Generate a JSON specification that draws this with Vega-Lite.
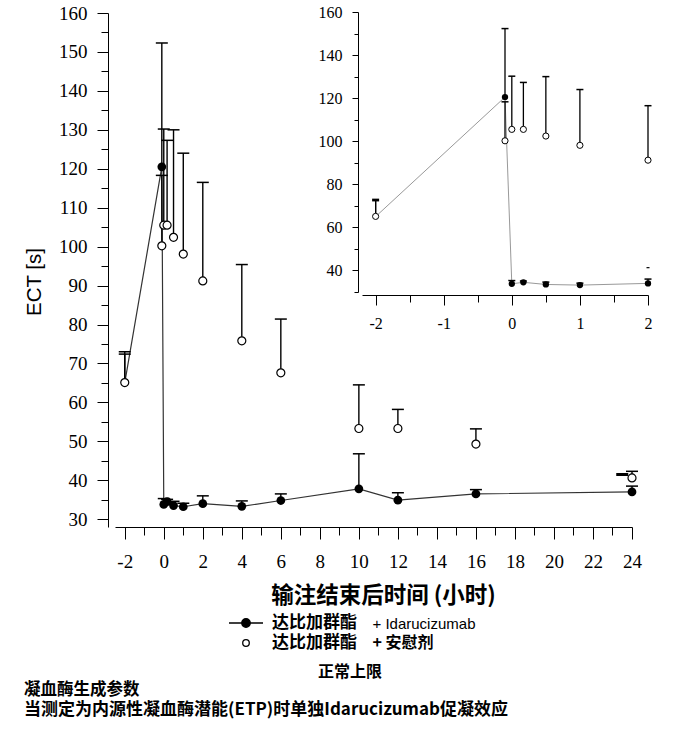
{
  "$schema": "https://vega.github.io/schema/vega-lite/v6.json",
  "width": 517,
  "height": 514,
  "autosize": {"type": "none"},
  "padding": {"left": 115, "top": 13, "right": 42, "bottom": 202},
  "background": "white",
  "config": {
    "view": {"stroke": null},
    "axis": {"grid": false, "domainColor": "black", "tickColor": "black", "labelColor": "black", "titleColor": "black", "domainWidth": 1, "tickWidth": 1, "labelFont": "Liberation Serif, DejaVu Serif, serif"}
  },
  "title": {
    "text": "凝血酶生成参数",
    "subtitle": "当测定为内源性凝血酶潜能(ETP)时单独Idarucizumab促凝效应",
    "orient": "bottom",
    "anchor": "start",
    "frame": "bounds",
    "offset": 3,
    "font": "Noto Sans CJK SC",
    "fontSize": 16.5,
    "fontWeight": "bold",
    "color": "black",
    "subtitleFont": "Noto Sans CJK SC",
    "subtitleFontSize": 17,
    "subtitleFontWeight": "bold",
    "subtitleColor": "black",
    "subtitlePadding": 3
  },
  "datasets": {
    "series": [
      {"group": "达比加群酯 + Idarucizumab", "t": -2, "ect": 65.0, "upper": 72.4},
      {"group": "达比加群酯 + Idarucizumab", "t": -0.1, "ect": 120.5, "upper": 152.3},
      {"group": "达比加群酯 + Idarucizumab", "t": 0, "ect": 33.8, "upper": 35.3},
      {"group": "达比加群酯 + Idarucizumab", "t": 0.17, "ect": 34.5, "upper": 35.1},
      {"group": "达比加群酯 + Idarucizumab", "t": 0.5, "ect": 33.5, "upper": 34.6},
      {"group": "达比加群酯 + Idarucizumab", "t": 1, "ect": 33.2, "upper": 34.1},
      {"group": "达比加群酯 + Idarucizumab", "t": 2, "ect": 34.0, "upper": 36.0},
      {"group": "达比加群酯 + Idarucizumab", "t": 4, "ect": 33.3, "upper": 34.7},
      {"group": "达比加群酯 + Idarucizumab", "t": 6, "ect": 34.8, "upper": 36.5},
      {"group": "达比加群酯 + Idarucizumab", "t": 10, "ect": 37.8, "upper": 46.8},
      {"group": "达比加群酯 + Idarucizumab", "t": 12, "ect": 34.9, "upper": 36.8},
      {"group": "达比加群酯 + Idarucizumab", "t": 16, "ect": 36.5, "upper": 37.6},
      {"group": "达比加群酯 + Idarucizumab", "t": 24, "ect": 37.0, "upper": 38.5},
      {"group": "达比加群酯 + 安慰剂", "t": -2, "ect": 65.1, "upper": 73.0},
      {"group": "达比加群酯 + 安慰剂", "t": -0.1, "ect": 100.2, "upper": 118.3},
      {"group": "达比加群酯 + 安慰剂", "t": 0, "ect": 105.5, "upper": 130.2},
      {"group": "达比加群酯 + 安慰剂", "t": 0.17, "ect": 105.5, "upper": 127.3},
      {"group": "达比加群酯 + 安慰剂", "t": 0.5, "ect": 102.4, "upper": 130.0},
      {"group": "达比加群酯 + 安慰剂", "t": 1, "ect": 98.1, "upper": 124.0},
      {"group": "达比加群酯 + 安慰剂", "t": 2, "ect": 91.2, "upper": 116.5},
      {"group": "达比加群酯 + 安慰剂", "t": 4, "ect": 75.8, "upper": 95.4},
      {"group": "达比加群酯 + 安慰剂", "t": 6, "ect": 67.6, "upper": 81.4},
      {"group": "达比加群酯 + 安慰剂", "t": 10, "ect": 53.3, "upper": 64.5},
      {"group": "达比加群酯 + 安慰剂", "t": 12, "ect": 53.3, "upper": 58.2},
      {"group": "达比加群酯 + 安慰剂", "t": 16, "ect": 49.3, "upper": 53.2},
      {"group": "达比加群酯 + 安慰剂", "t": 24, "ect": 40.6, "upper": 42.3}
    ],
    "limit": [
      {"panel": "main", "t": 23.5, "ect": 41.5},
      {"panel": "inset", "t": 2, "ect": 41.3}
    ]
  },
  "data": {"name": "series"},
  "resolve": {
    "scale": {"x": "independent", "y": "independent"},
    "axis": {"x": "independent", "y": "independent"}
  },
  "layer": [
    {
      "encoding": {
        "x": {
          "field": "t", "type": "quantitative",
          "scale": {"domain": [-2.5, 24], "nice": false, "zero": false},
          "axis": {
            "orient": "bottom",
            "values": [-2, -1, 0, 1, 2, 3, 4, 5, 6, 7, 8, 9, 10, 11, 12, 13, 14, 15, 16, 17, 18, 19, 20, 21, 22, 23, 24],
            "labelExpr": "datum.value % 2 === 0 ? '' + datum.value : ''",
            "tickSize": {"condition": {"test": "datum.value % 2 !== 0", "value": 8}, "value": 12},
            "labelFont": "Liberation Serif, DejaVu Serif, serif", "labelFontSize": 19, "labelPadding": 13,
            "labelFlush": false, "labelOverlap": false, "labelBound": false,
            "title": "输注结束后时间 (小时)",
            "titleFont": "Noto Sans CJK SC", "titleFontSize": 22.5, "titleFontWeight": "bold",
            "titleX": 268, "titleY": 68, "titleAlign": "center", "titleBaseline": "middle", "titleAngle": 0
          }
        },
        "y": {
          "field": "ect", "type": "quantitative",
          "scale": {"domain": [28, 160], "nice": false, "zero": false},
          "axis": {
            "orient": "left", "offset": 7,
            "values": [30, 35, 40, 45, 50, 55, 60, 65, 70, 75, 80, 85, 90, 95, 100, 105, 110, 115, 120, 125, 130, 135, 140, 145, 150, 155, 160],
            "labelExpr": "datum.value % 10 === 0 ? '' + datum.value : ''",
            "tickSize": {"condition": {"test": "datum.value % 10 !== 0", "value": 7}, "value": 11},
            "labelFont": "Liberation Serif, DejaVu Serif, serif", "labelFontSize": 19, "labelPadding": 10,
            "labelFlush": false, "labelOverlap": false, "labelBound": false,
            "title": "ECT [s]",
            "titleFont": "Liberation Sans", "titleFontSize": 20.5, "titleFontWeight": "normal",
            "titleX": -74, "titleY": 268.5, "titleAngle": -90, "titleAlign": "center", "titleBaseline": "middle"
          }
        }
      },
      "layer": [
        {
          "transform": [{"filter": "datum.group === '达比加群酯 + Idarucizumab'"}],
          "mark": {"type": "line", "color": "#333333", "strokeWidth": 1.2}
        },
        {
          "mark": {"type": "rule", "color": "black", "strokeWidth": 1.4},
          "encoding": {"y2": {"field": "upper"}}
        },
        {
          "mark": {"type": "tick", "orient": "horizontal", "color": "black", "size": 12, "thickness": 1.5, "opacity": 1},
          "encoding": {"y": {"field": "upper", "type": "quantitative", "scale": {"domain": [28, 160], "nice": false, "zero": false}}}
        },
        {
          "data": {"name": "limit"},
          "transform": [{"filter": "datum.panel === 'main'"}],
          "mark": {"type": "tick", "orient": "horizontal", "color": "black", "size": 12, "thickness": 3, "opacity": 1}
        },
        {
          "transform": [{"filter": "datum.group === '达比加群酯 + Idarucizumab' && datum.t > -2"}],
          "mark": {"type": "point", "shape": "circle", "filled": true, "color": "black", "size": 76, "opacity": 1}
        },
        {
          "transform": [{"filter": "datum.group === '达比加群酯 + 安慰剂'"}],
          "mark": {"type": "point", "shape": "circle", "fill": "white", "stroke": "black", "strokeWidth": 1.2, "size": 64, "opacity": 1}
        }
      ]
    },
    {
      "transform": [{"filter": "datum.t <= 2"}],
      "encoding": {
        "x": {
          "field": "t", "type": "quantitative",
          "scale": {"domain": [-2.2, 2], "range": [247, 533], "nice": false, "zero": false},
          "axis": {
            "orient": "bottom", "offset": -232,
            "values": [-2, -1.5, -1, -0.5, 0, 0.5, 1, 1.5, 2],
            "labelExpr": "datum.value % 1 === 0 ? '' + datum.value : ''",
            "tickSize": {"condition": {"test": "datum.value % 1 !== 0", "value": 7}, "value": 10},
            "labelFont": "Liberation Serif, DejaVu Serif, serif", "labelFontSize": 16, "labelPadding": 10,
            "labelFlush": false, "labelOverlap": false, "labelBound": false,
            "title": "+ 安慰剂",
            "titleFont": "Noto Sans CJK SC", "titleFontSize": 16, "titleFontWeight": "bold",
            "titleX": 257, "titleY": 347, "titleAlign": "left", "titleBaseline": "middle", "titleAngle": 0
          }
        },
        "y": {
          "field": "ect", "type": "quantitative",
          "scale": {"domain": [30, 160], "range": [279, -1], "nice": false, "zero": false},
          "axis": {
            "orient": "left", "offset": -243,
            "values": [30, 40, 50, 60, 70, 80, 90, 100, 110, 120, 130, 140, 150, 160],
            "labelExpr": "datum.value % 20 === 0 ? '' + datum.value : ''",
            "tickSize": {"condition": {"test": "datum.value % 20 !== 0", "value": 4}, "value": 6},
            "labelFont": "Liberation Serif, DejaVu Serif, serif", "labelFontSize": 16, "labelPadding": 10,
            "labelFlush": false, "labelOverlap": false, "labelBound": false,
            "title": "+ Idarucizumab",
            "titleFont": "Liberation Sans", "titleFontSize": 15, "titleFontWeight": "normal",
            "titleX": 14, "titleY": 610, "titleAngle": 0, "titleAlign": "left", "titleBaseline": "middle"
          }
        }
      },
      "layer": [
        {
          "transform": [{"filter": "datum.group === '达比加群酯 + Idarucizumab'"}],
          "mark": {"type": "line", "color": "#999999", "strokeWidth": 1}
        },
        {
          "mark": {"type": "rule", "color": "black", "strokeWidth": 1.3},
          "encoding": {"y2": {"field": "upper"}}
        },
        {
          "mark": {"type": "tick", "orient": "horizontal", "color": "black", "size": 7, "thickness": 1.5, "opacity": 1},
          "encoding": {"y": {"field": "upper", "type": "quantitative", "scale": {"domain": [30, 160], "range": [279, -1], "nice": false, "zero": false}}}
        },
        {
          "data": {"name": "limit"},
          "transform": [{"filter": "datum.panel === 'inset'"}],
          "mark": {"type": "tick", "orient": "horizontal", "color": "black", "size": 3, "thickness": 1.2, "opacity": 1}
        },
        {
          "transform": [{"filter": "datum.group === '达比加群酯 + Idarucizumab' && datum.t > -2"}],
          "mark": {"type": "point", "shape": "circle", "filled": true, "color": "black", "size": 40, "opacity": 1}
        },
        {
          "transform": [{"filter": "datum.group === '达比加群酯 + 安慰剂'"}],
          "mark": {"type": "point", "shape": "circle", "fill": "white", "stroke": "black", "strokeWidth": 1, "size": 38, "opacity": 1}
        }
      ]
    },
    {
      "mark": {"type": "point", "size": 0, "strokeWidth": 1.3, "opacity": 1},
      "encoding": {
        "x": {
          "field": "t", "type": "quantitative",
          "axis": {
            "orient": "bottom", "domain": false, "ticks": false, "labels": false, "grid": false,
            "title": "正常上限",
            "titleFont": "Noto Sans CJK SC", "titleFontSize": 16, "titleFontWeight": "bold",
            "titleX": 234.5, "titleY": 144, "titleAlign": "center", "titleBaseline": "middle", "titleAngle": 0
          }
        },
        "y": {"field": "ect", "type": "quantitative", "axis": null},
        "fill": {
          "field": "group", "type": "nominal",
          "scale": {"domain": ["达比加群酯 + Idarucizumab", "达比加群酯 + 安慰剂"], "range": ["black", "white"]},
          "legend": {
            "orient": "none", "legendX": 122.5, "legendY": 601.5, "title": null,
            "labelExpr": "'达比加群酯'",
            "labelFont": "Noto Sans CJK SC", "labelFontSize": 17, "labelFontWeight": "bold", "labelColor": "black",
            "symbolSize": 81, "symbolStrokeWidth": 1.3, "symbolOpacity": 1,
            "labelOffset": 17.5, "rowPadding": 2, "padding": 0
          }
        },
        "stroke": {
          "field": "group", "type": "nominal",
          "scale": {"domain": ["达比加群酯 + Idarucizumab", "达比加群酯 + 安慰剂"], "range": ["black", "black"]},
          "legend": {
            "orient": "none", "legendX": 122.5, "legendY": 601.5, "title": null,
            "labelExpr": "'达比加群酯'",
            "labelFont": "Noto Sans CJK SC", "labelFontSize": 17, "labelFontWeight": "bold", "labelColor": "black",
            "symbolSize": 81, "symbolStrokeWidth": 1.3, "symbolOpacity": 1,
            "labelOffset": 17.5, "rowPadding": 2, "padding": 0
          }
        },
        "shape": {
          "field": "group", "type": "nominal",
          "scale": {
            "domain": ["达比加群酯 + Idarucizumab", "达比加群酯 + 安慰剂"],
            "range": [
              "M-3.78,0L3.78,0M0.95,0A0.95,0.95,0,1,1,-0.95,0A0.95,0.95,0,1,1,0.95,0Z",
              "M0.73,0A0.73,0.73,0,1,1,-0.73,0A0.73,0.73,0,1,1,0.73,0Z"
            ]
          },
          "legend": {
            "orient": "none", "legendX": 122.5, "legendY": 601.5, "title": null,
            "labelExpr": "'达比加群酯'",
            "labelFont": "Noto Sans CJK SC", "labelFontSize": 17, "labelFontWeight": "bold", "labelColor": "black",
            "symbolSize": 81, "symbolStrokeWidth": 1.3, "symbolOpacity": 1,
            "labelOffset": 17.5, "rowPadding": 2, "padding": 0
          }
        }
      }
    }
  ]
}
